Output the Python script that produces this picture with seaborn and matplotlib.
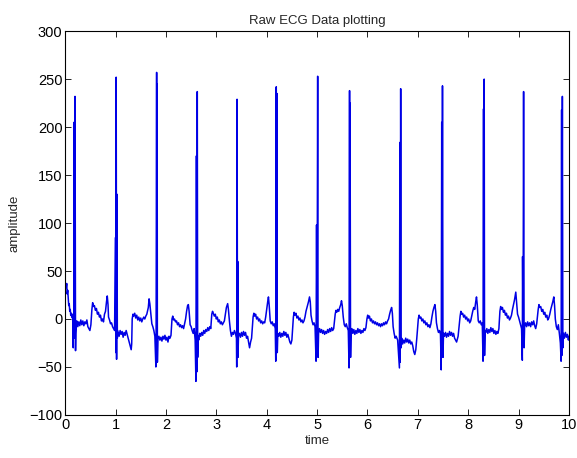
import matplotlib
matplotlib.use("Agg")
import matplotlib.pyplot as plt
import seaborn as sns
import pandas as pd

# ECG trace, one chunk per beat (time in s, amplitude)
time = [
    # start + beat 1 (R ~0.2)
    0.00, 0.01, 0.02, 0.03, 0.04, 0.05, 0.06, 0.07, 0.08, 0.09, 0.10, 0.11, 0.12, 0.13, 0.14, 0.15,
    0.16, 0.165, 0.17, 0.175, 0.18, 0.19, 0.195, 0.205, 0.21, 0.22,
    0.23, 0.25, 0.27, 0.29, 0.31, 0.33, 0.35, 0.37, 0.39, 0.41, 0.43, 0.45, 0.47, 0.49, 0.51,
    0.53, 0.545, 0.56, 0.58, 0.60, 0.62, 0.64, 0.66, 0.68, 0.70, 0.72, 0.74, 0.76, 0.78, 0.80,
    0.82, 0.835, 0.85, 0.86, 0.88, 0.90, 0.92, 0.94, 0.96, 0.98,
    # beat 2 (R ~1.01)
    1.00, 1.005, 1.012, 1.02, 1.028, 1.035, 1.04,
    1.05, 1.07, 1.09, 1.11, 1.13, 1.15, 1.17, 1.19, 1.21, 1.23, 1.25, 1.27, 1.29, 1.31, 1.32,
    1.33, 1.345, 1.36, 1.38, 1.40, 1.42, 1.44, 1.46, 1.48, 1.50, 1.52, 1.54, 1.56, 1.58, 1.60,
    1.62, 1.65, 1.665, 1.68, 1.70, 1.72, 1.74, 1.76, 1.78,
    # beat 3 (R ~1.82)
    1.80, 1.805, 1.815, 1.82, 1.825, 1.83, 1.84,
    1.86, 1.88, 1.90, 1.92, 1.94, 1.96, 1.98, 2.00, 2.02, 2.04, 2.06, 2.08, 2.10,
    2.12, 2.135, 2.15, 2.17, 2.19, 2.21, 2.23, 2.25, 2.27, 2.29, 2.31, 2.33, 2.35, 2.37, 2.39,
    2.41, 2.43, 2.445, 2.46, 2.48, 2.50, 2.52, 2.54, 2.56, 2.58,
    # beat 4 (R ~2.62)
    2.595, 2.605, 2.615, 2.622, 2.63, 2.64,
    2.65, 2.67, 2.69, 2.71, 2.73, 2.75, 2.77, 2.79, 2.81, 2.83, 2.85, 2.87, 2.89,
    2.91, 2.925, 2.94, 2.96, 2.98, 3.00, 3.02, 3.04, 3.06, 3.08, 3.10, 3.12, 3.14, 3.16, 3.18,
    3.20, 3.225, 3.24, 3.26, 3.28, 3.30, 3.32, 3.34, 3.36, 3.38, 3.40,
    # beat 5 (R ~3.41)
    3.405, 3.412, 3.42, 3.425, 3.43, 3.44,
    3.46, 3.48, 3.50, 3.52, 3.54, 3.56, 3.58, 3.60, 3.62, 3.64, 3.66, 3.68, 3.70,
    3.73, 3.745, 3.76, 3.78, 3.80, 3.82, 3.84, 3.86, 3.88, 3.90, 3.92, 3.94, 3.96, 3.98,
    4.00, 4.02, 4.035, 4.05, 4.07, 4.09, 4.11, 4.13, 4.15, 4.17,
    # beat 6 (R ~4.19)
    4.18, 4.19, 4.20, 4.205, 4.21, 4.22,
    4.24, 4.26, 4.28, 4.30, 4.32, 4.34, 4.36, 4.38, 4.40, 4.42, 4.44, 4.46, 4.48, 4.50,
    4.53, 4.545, 4.56, 4.58, 4.60, 4.62, 4.64, 4.66, 4.68, 4.70, 4.72, 4.74, 4.76, 4.78,
    4.80, 4.83, 4.85, 4.865, 4.88, 4.90, 4.92, 4.94, 4.96,
    # beat 7 (R ~5.01)
    4.98, 4.99, 5.00, 5.012, 5.02, 5.03,
    5.05, 5.07, 5.09, 5.11, 5.13, 5.15, 5.17, 5.19, 5.21, 5.23, 5.25, 5.27, 5.29, 5.31, 5.33,
    5.36, 5.375, 5.39, 5.41, 5.43, 5.45, 5.47, 5.485, 5.50, 5.52, 5.54, 5.56, 5.58, 5.60, 5.62,
    # beat 8 (R ~5.65)
    5.635, 5.645, 5.65, 5.655, 5.665, 5.675,
    5.69, 5.71, 5.73, 5.75, 5.77, 5.79, 5.81, 5.83, 5.85, 5.87, 5.89, 5.91, 5.93, 5.95, 5.97,
    5.99, 6.005, 6.02, 6.04, 6.06, 6.08, 6.10, 6.12, 6.14, 6.16, 6.18, 6.20, 6.22, 6.24, 6.26,
    6.28, 6.30, 6.32, 6.34, 6.36, 6.38, 6.40, 6.42, 6.44, 6.46, 6.48, 6.495, 6.51, 6.53, 6.55,
    6.57, 6.60,
    # beat 9 (R ~6.66)
    6.635, 6.645, 6.65, 6.66, 6.67, 6.68,
    6.70, 6.72, 6.74, 6.76, 6.78, 6.80, 6.82, 6.84, 6.86, 6.88, 6.90, 6.92, 6.94, 6.96, 6.98,
    7.01, 7.025, 7.04, 7.06, 7.08, 7.10, 7.12, 7.14, 7.16, 7.18, 7.20, 7.22, 7.24, 7.26, 7.28,
    7.30, 7.32, 7.34, 7.355, 7.37, 7.39, 7.41, 7.43, 7.45,
    # beat 10 (R ~7.49)
    7.465, 7.475, 7.48, 7.49, 7.50, 7.51,
    7.53, 7.55, 7.57, 7.59, 7.61, 7.63, 7.65, 7.67, 7.69, 7.71, 7.73, 7.75, 7.77, 7.80,
    7.84, 7.855, 7.87, 7.89, 7.91, 7.93, 7.95, 7.97, 7.99, 8.01, 8.03, 8.05, 8.07, 8.09, 8.11,
    8.13, 8.15, 8.165, 8.18, 8.20, 8.22, 8.24, 8.26, 8.28,
    # beat 11 (R ~8.31)
    8.295, 8.305, 8.31, 8.318, 8.325, 8.335,
    8.35, 8.37, 8.39, 8.41, 8.43, 8.45, 8.47, 8.49, 8.51, 8.53, 8.55, 8.57, 8.59, 8.61,
    8.63, 8.645, 8.66, 8.68, 8.70, 8.72, 8.74, 8.76, 8.78, 8.80, 8.82, 8.84, 8.86, 8.88, 8.90,
    8.92, 8.945, 8.96, 8.98, 9.00, 9.02, 9.04, 9.06,
    # beat 12 (R ~9.1)
    9.075, 9.08, 9.09, 9.10, 9.11, 9.12,
    9.14, 9.16, 9.18, 9.20, 9.22, 9.24, 9.26, 9.28, 9.30, 9.32, 9.34, 9.36,
    9.39, 9.405, 9.42, 9.44, 9.46, 9.48, 9.50, 9.52, 9.54, 9.56, 9.58, 9.60, 9.62, 9.64, 9.66,
    9.68, 9.70, 9.715, 9.73, 9.75, 9.77, 9.79, 9.81, 9.83,
    # beat 13 (R ~9.87)
    9.845, 9.855, 9.86, 9.87, 9.88, 9.89,
    9.91, 9.93, 9.95, 9.97, 9.99, 10.00,
]

amplitude = [
    30, 36, 33, 37, 26, 30, 22, 14, 16, 8, 10, 4, 6, 2, 5, -2,
    -30, 3, -5, 205, -20, -10, 232, -33, -15, -5,
    -2, -8, -3, -7, -1, -6, -2, -7, -3, -5, -1, -8, -10, -12, -6,
    10, 17, 13, 14, 9, 11, 5, 7, 2, 4, -2, 0, -3, 5, 8,
    18, 24, 15, 2, -1, -5, -4, -8, -10, -12,
    85, -35, 252, -42, 130, -20, -12,
    -14, -18, -12, -16, -13, -19, -14, -17, -12, -16, -20, -24, -28, -32, -26,
    0, 5, 3, 6, 1, 4, -1, 2, -2, 1, -3, 0, 2, 0, 3,
    5, 12, 21, 16, 5, -5, -8, -12, -18,
    -50, -10, 257, -30, 245, -45, -20,
    -18, -22, -19, -23, -18, -21, -17, -22, -19, -24, -18, -20, -17,
    0, 3, -1, 0, -3, -2, -6, -4, -8, -6, -9, -7, -10, -5, 0,
    8, 14, 15, 8, -6, -8, -12, -15, -10, -22,
    -65, 170, -55, 237, -40, -18,
    -22, -15, -18, -14, -17, -12, -15, -11, -13, -9, -12, -8, -10,
    5, 8, 6, 3, 5, 0, 2, -3, -1, -5, -3, -6, -4, -2, 5,
    12, 16, 10, -2, -12, -18, -14, -16, -12, -15, -20,
    -50, 229, -30, 60, -40, -18,
    -15, -19, -14, -18, -13, -17, -14, -20, -18, -24, -30, -24, -20,
    2, 6, 3, 5, 0, 2, -2, 0, -4, -2, -5, -3, -4, 2,
    10, 18, 23, 14, -2, -5, -3, -7, -5, -10,
    -44, 242, -25, 235, -35, -15,
    -18, -14, -19, -15, -18, -13, -17, -14, -19, -16, -20, -24, -26, -22,
    2, 7, 4, 6, 1, 3, -1, 1, -3, -1, -4, -2, 2, 8,
    12, 18, 23, 18, 4, -2, -6, -4, -8,
    -44, 98, -35, 253, -40, -15,
    -10, -14, -11, -15, -12, -16, -13, -15, -11, -14, -10, -13, -9, -12, -10,
    5, 9, 7, 10, 8, 12, 15, 19, 14, 2, -6, -8, -5, -9, -12,
    -51, 238, -30, 225, -40, -12,
    -10, -15, -11, -16, -12, -15, -10, -14, -11, -15, -12, -14, -10, -12, -9,
    0, 4, 1, 3, -2, 0, -4, -2, -5, -3, -6, -4, -7, -5, -8,
    -5, -7, -4, -6, -3, -5, -2, 0, 5, 9, 12, 6, -8, -15, -20,
    -18, -22,
    -51, 184, -45, 240, -30, -20,
    -26, -22, -25, -20, -24, -21, -25, -22, -26, -24, -28, -34, -37, -32, -20,
    0, 4, 1, 2, -2, 0, -4, -2, -6, -4, -8, -6, -9, -5, 2,
    8, 12, 15, 8, -4, -10, -14, -12, -16,
    -53, 205, -35, 243, -40, -15,
    -18, -14, -19, -15, -18, -13, -17, -14, -18, -15, -20, -22, -24, -18,
    3, 8, 5, 6, 2, 4, 0, 2, -2, 0, -4, -2, 3, 8, 12,
    10, 18, 23, 15, -2, -4, -2, -6, -4,
    -44, 219, -20, 250, -38, -12,
    -14, -10, -15, -11, -14, -9, -13, -10, -15, -12, -16, -13, -15, -10,
    8, 13, 10, 12, 7, 9, 4, 6, 1, 3, -1, 1, 4, 10, 15,
    20, 28, 18, 5, 2, -2, -6, -10,
    -43, 65, -20, 237, -30, -8,
    -4, -8, -3, -7, -4, -8, -3, -6, -2, -7, -10, -5,
    10, 15, 12, 13, 8, 10, 5, 7, 2, 4, -1, 1, 5, 10, 14,
    18, 23, 14, 0, -8, -11, -6, -15, -25,
    -44, 218, -38, 232, -30, -15,
    -20, -14, -19, -16, -22, -18,
]

df = pd.DataFrame({"time": time, "amplitude": amplitude})

sns.set_style("ticks")
plt.rcParams["font.family"] = ["Liberation Sans", "DejaVu Sans"]
plt.rcParams["xtick.direction"] = "in"
plt.rcParams["ytick.direction"] = "in"
plt.rcParams["xtick.top"] = True
plt.rcParams["ytick.right"] = True

fig = plt.figure(figsize=(5.77, 4.58), dpi=100)
ax = fig.add_axes([0.113, 0.094, 0.873, 0.838])
sns.lineplot(data=df, x="time", y="amplitude", estimator=None, sort=False,
             color="#0000e6", linewidth=1.1, ax=ax)

ax.set_xlim(0, 10)
ax.set_ylim(-100, 300)
ax.set_xticks(range(0, 11))
ax.set_yticks(range(-100, 301, 50))
ax.tick_params(labelsize=10.5, length=4, width=0.6, colors="black", pad=2)
for s in ax.spines.values():
    s.set_linewidth(0.8)
    s.set_color("black")

ax.set_title("Raw ECG Data plotting", fontsize=9.5, pad=5)
ax.set_xlabel("time", fontsize=9.5, labelpad=2)
ax.set_ylabel("amplitude", fontsize=9.5, labelpad=6)

fig.savefig("out.png", dpi=100, facecolor="white")
